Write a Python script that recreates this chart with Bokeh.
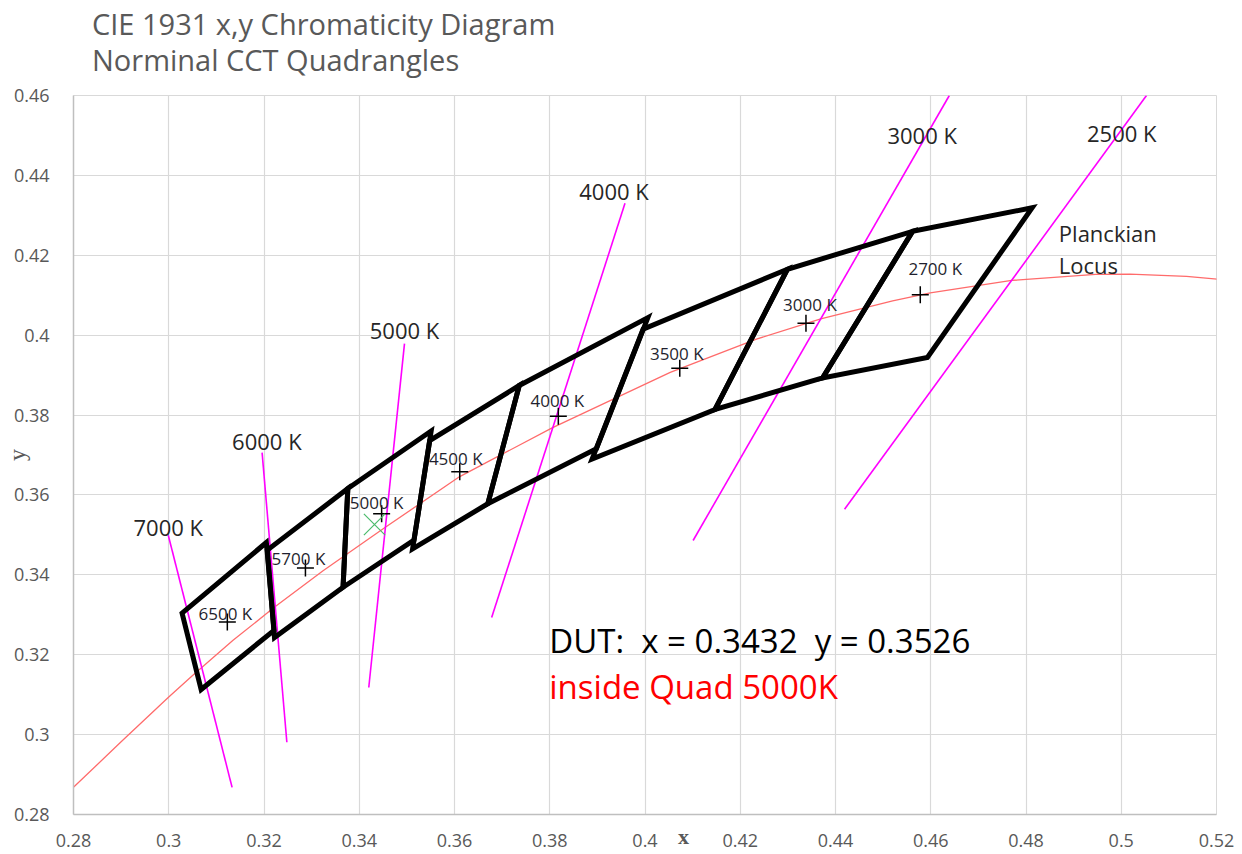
import math
from bokeh.plotting import figure
from bokeh.layouts import column
from bokeh.models import (Range1d, FixedTicker, NumeralTickFormatter, ColumnDataSource,
                          Label, Div)
from bokeh.core.properties import value
from bokeh.embed import file_html
from bokeh.resources import INLINE

# ---------------- data ----------------
title_lines = ["CIE 1931 x,y Chromaticity Diagram", "Norminal CCT Quadrangles"]

x_ticks = [0.28, 0.3, 0.32, 0.34, 0.36, 0.38, 0.4, 0.42, 0.44, 0.46, 0.48, 0.5, 0.52]
y_ticks = [0.28, 0.3, 0.32, 0.34, 0.36, 0.38, 0.4, 0.42, 0.44, 0.46]

# Planckian locus
planck_x = [0.2740, 0.2800, 0.2900, 0.3000, 0.3050, 0.3100, 0.3135, 0.3221, 0.3324,
            0.3451, 0.3611, 0.3805, 0.4053, 0.4234, 0.4369, 0.4520, 0.4599, 0.4770,
            0.4946, 0.5018, 0.5137, 0.5267]
planck_y = [0.2799, 0.2868, 0.2982, 0.3094, 0.3148, 0.3200, 0.3236, 0.3318, 0.3410,
            0.3516, 0.3646, 0.3768, 0.3907, 0.3990, 0.4041, 0.4086, 0.4106, 0.4137,
            0.4152, 0.4153, 0.4147, 0.4133]

# Nominal CCT quadrangles (corners: top-right, top-left, bottom-left, bottom-right)
quad_names = ["6500 K", "5700 K", "5000 K", "4500 K", "4000 K", "3500 K", "3000 K", "2700 K"]
quad_cx = [0.3123, 0.3287, 0.3447, 0.3611, 0.3818, 0.4073, 0.4338, 0.4578]
quad_cy = [0.3282, 0.3417, 0.3553, 0.3658, 0.3797, 0.3917, 0.4030, 0.4101]
quad_xs = [
    [0.3205, 0.3028, 0.3068, 0.3221],
    [0.3376, 0.3207, 0.3222, 0.3366],
    [0.3551, 0.3376, 0.3366, 0.3515],
    [0.3736, 0.3548, 0.3512, 0.3670],
    [0.4006, 0.3736, 0.3670, 0.3898],
    [0.4299, 0.3996, 0.3889, 0.4147],
    [0.4562, 0.4299, 0.4147, 0.4373],
    [0.4813, 0.4562, 0.4373, 0.4593],
]
quad_ys = [
    [0.3481, 0.3304, 0.3113, 0.3261],
    [0.3616, 0.3462, 0.3243, 0.3369],
    [0.3760, 0.3616, 0.3369, 0.3487],
    [0.3874, 0.3736, 0.3465, 0.3578],
    [0.4044, 0.3874, 0.3578, 0.3716],
    [0.4165, 0.4015, 0.3690, 0.3814],
    [0.4260, 0.4165, 0.3814, 0.3893],
    [0.4319, 0.4260, 0.3893, 0.3944],
]
# label offsets from the centre marks (pixels)
quad_label_dx = [-2, -7, -5, -4, -1, -3, 4, 15]
quad_label_dy = [8, 10, 11, 13, 16, 15, 19, 26]

# Isotherm lines
iso_names = ["7000 K", "6000 K", "5000 K", "4000 K", "3000 K", "2500 K"]
iso_xs = [[0.2999, 0.3133], [0.3196, 0.3248], [0.3495, 0.3420],
          [0.3958, 0.3678], [0.4639, 0.4101], [0.5053, 0.4419]]
iso_ys = [[0.3499, 0.2868], [0.3706, 0.2981], [0.3979, 0.3118],
          [0.4330, 0.3293], [0.4600, 0.3486], [0.4600, 0.3564]]
iso_label_x = [0.2999, 0.3206, 0.3495, 0.3935, 0.4582, 0.5001]
iso_label_y = [0.3519, 0.3734, 0.4012, 0.4362, 0.4500, 0.4505]

# Device under test
dut_x = [0.3432]
dut_y = [0.3526]

NB = "\u00a0"

# ---------------- title block ----------------
title_div = Div(
    text=('<div style="padding:6px 0 0 92px; line-height:36px; font-family:\'Open Sans\';'
          ' font-size:29px; color:#595959; white-space:nowrap;">'
          + "<br>".join(title_lines) + "</div>"),
    width=1242, height=80, margin=0)

# ---------------- figure ----------------
p = figure(width=1242, height=774, output_backend="svg", toolbar_location=None, title=None,
           x_range=Range1d(0.28, 0.52), y_range=Range1d(0.28, 0.46),
           min_border_left=70, min_border_right=26, min_border_top=15, min_border_bottom=40)
p.outline_line_color = "#d9d9d9"
p.background_fill_color = "white"
p.border_fill_color = "white"

for ax in (p.xaxis[0], p.yaxis[0]):
    ax.axis_line_color = "#bfbfbf"
    ax.axis_line_width = 1.5
    ax.major_tick_line_color = None
    ax.minor_tick_line_color = None
    ax.major_label_text_font = "Open Sans"
    ax.major_label_text_font_size = "18px"
    ax.major_label_text_color = "#595959"
    ax.formatter = NumeralTickFormatter(format="0.[00]")
    ax.axis_label_text_font = "Liberation Serif"
    ax.axis_label_text_color = "#595959"
    ax.axis_label_text_font_style = "bold"
p.xaxis.ticker = FixedTicker(ticks=x_ticks)
p.yaxis.ticker = FixedTicker(ticks=y_ticks)
p.xaxis.major_label_standoff = 13
p.yaxis.major_label_standoff = 18
p.xaxis.axis_label = NB * 14 + "x"
p.xaxis.axis_label_text_font_size = "22px"
p.xaxis.axis_label_standoff = -26
p.yaxis.axis_label = "y"
p.yaxis.axis_label_text_font_size = "24px"
p.yaxis.axis_label_text_font_style = "normal"
p.yaxis.axis_label_standoff = -19
p.xgrid.ticker = FixedTicker(ticks=x_ticks)
p.ygrid.ticker = FixedTicker(ticks=y_ticks)
p.grid.grid_line_color = "#d9d9d9"
p.grid.grid_line_width = 1.2

# Planckian locus
p.line(planck_x, planck_y, line_color="#ff6b6b", line_width=1.3)

# Isotherms
p.multi_line(xs=iso_xs, ys=iso_ys, line_color="#ff00ff", line_width=1.6)

# Quadrangles
p.patches(xs=quad_xs, ys=quad_ys, fill_color=None, line_color="black",
          line_width=5, line_join="miter")

# centre marks
qsrc = ColumnDataSource(dict(x=quad_cx, y=quad_cy, name=quad_names,
                             dx=quad_label_dx, dy=[-d for d in quad_label_dy]))
p.scatter("x", "y", source=qsrc, marker="cross", size=17, line_color="black", line_width=1.5)
p.text("x", "y", text="name", source=qsrc, x_offset="dx", y_offset="dy",
       text_font=value("Open Sans"), text_font_size=value("17px"),
       text_color="#1f1f2e", text_align="center", text_baseline="middle")

# isotherm labels
isrc = ColumnDataSource(dict(x=iso_label_x, y=iso_label_y, name=iso_names))
p.text("x", "y", text="name", source=isrc,
       text_font=value("Open Sans"), text_font_size=value("22px"),
       text_color="#262626", text_align="center", text_baseline="middle")

# DUT
p.scatter(dut_x, dut_y, marker="x", size=30, line_color="#4cbb6c", line_width=1.2)

# Text annotations
p.add_layout(Label(x=0.4869, y=0.4255, text="Planckian", text_font="Open Sans",
                   text_font_size="22px", text_color="#262626", text_baseline="middle"))
p.add_layout(Label(x=0.4869, y=0.4175, text="Locus", text_font="Open Sans",
                   text_font_size="22px", text_color="#262626", text_baseline="middle"))
p.add_layout(Label(x=0.3799, y=0.3236,
                   text="DUT:" + NB + " x = %.4f" % dut_x[0] + NB + " y = %.4f" % dut_y[0],
                   text_font="Open Sans", text_font_size="33px", text_color="black",
                   text_baseline="middle"))
p.add_layout(Label(x=0.3799, y=0.3121, text="inside Quad 5000K",
                   text_font="Open Sans", text_font_size="33px", text_color="#ff0000",
                   text_baseline="middle"))

layout = column(title_div, p, spacing=0)
open("out.html", "w").write(file_html(layout, INLINE))
